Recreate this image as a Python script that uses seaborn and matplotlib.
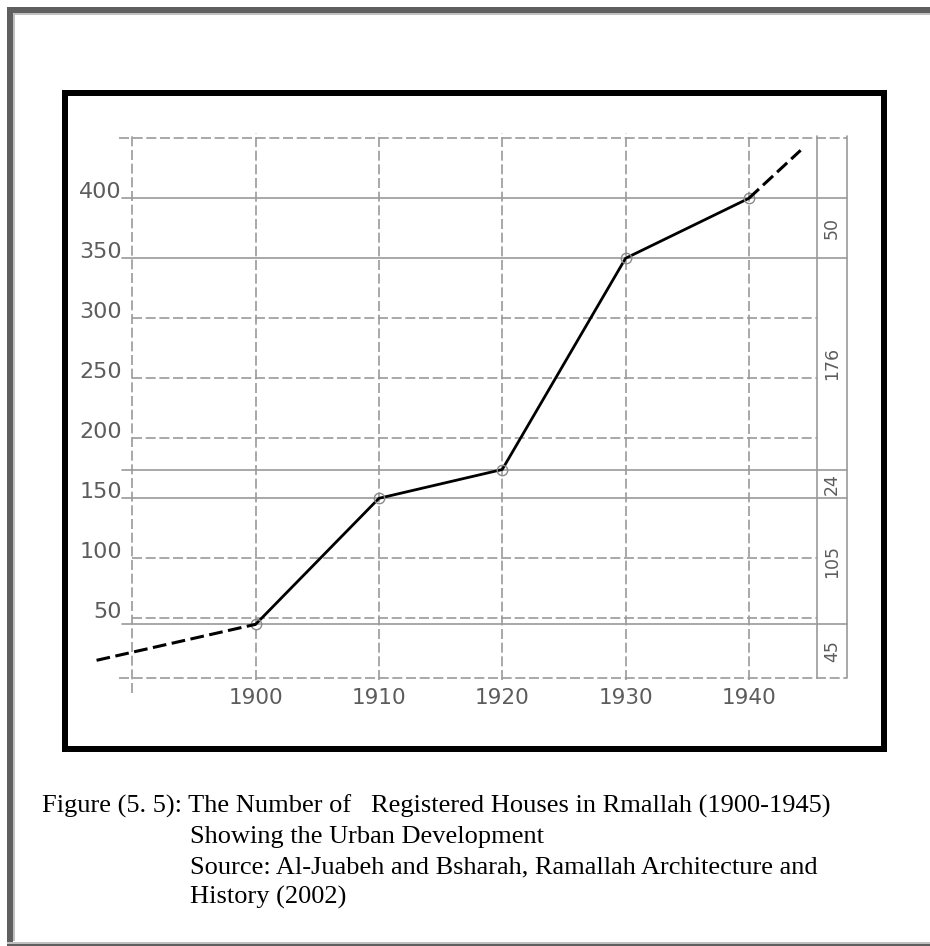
import numpy as np
import matplotlib as mpl
mpl.use('Agg')
import matplotlib.pyplot as plt
from matplotlib.patches import Rectangle
import seaborn as sns

# data
years = [1900, 1910, 1920, 1930, 1940]
houses = [45, 150, 174, 350, 400]
lead_in_years = [1887.1, 1900]
lead_in_houses = [15, 45]
lead_out_years = [1940, 1944.2]
lead_out_houses = [400, 440]
increments = [45, 105, 24, 176, 50]
y_ticks = [400, 350, 300, 250, 200, 150, 100, 50]
x_ticks = [1900, 1910, 1920, 1930, 1940]
caption = [
    "Figure (5. 5): The Number of   Registered Houses in Rmallah (1900-1945)",
    "Showing the Urban Development",
    "Source: Al-Juabeh and Bsharah, Ramallah Architecture and",
    "History (2002)",
]

sns.set_theme(style="white")
plt.rcParams['font.family'] = ['DejaVu Sans']

W, H = 930, 946
fig = plt.figure(figsize=(W / 100, H / 100), dpi=100)
fig.patch.set_facecolor('white')

def fx(px):
    return px / W

def fy(py):
    return 1 - py / H

# outer page frame (right edge is cropped off in the original)
for x0, y0, x1, y1, c in [(7, 7, 13, 946, '#5f5f5f'), (7, 7, 930, 13, '#5f5f5f'),
                          (13, 13, 15, 941, '#c0c0c0'), (13, 13, 930, 15, '#c0c0c0'),
                          (7, 941.5, 930, 944, '#c0c0c0'), (7, 944, 930, 946, '#5f5f5f')]:
    fig.add_artist(Rectangle((fx(x0), fy(y1)), fx(x1) - fx(x0), fy(y0) - fy(y1),
                             transform=fig.transFigure, color=c, lw=0))

# plot area inside black box (box centre line 65..884 x 93..749 px)
ax = fig.add_axes([fx(65), fy(749), fx(884) - fx(65), fy(93) - fy(749)])
ax.set_xlim(1884.54, 1950.96)
ax.set_ylim(-58.9, 487.75)
for s in ax.spines.values():
    s.set_visible(False)
ax.set_xticks([])
ax.set_yticks([])
fig.add_artist(Rectangle((fx(65), fy(749)), fx(884) - fx(65), fy(93) - fy(749),
                         transform=fig.transFigure, fill=False, ec='black',
                         lw=4.32, joinstyle='miter', zorder=10))

grid_c = '#9a9a9a'
dash = (0, (6, 2.2))
col_a, col_b = 1945.5, 1947.94  # right hand columns

# solid horizontals at the data levels
for v in houses:
    ax.plot([1889.16, col_b], [v, v], color=grid_c, lw=1.2, zorder=1)
# dashed horizontals
for v in [300, 250, 200, 100, 50]:
    ax.plot([1890, col_a], [v, v], color=grid_c, lw=1.2, ls=dash, zorder=1)
for v in [450, 0]:
    ax.plot([1888.95, col_b], [v, v], color=grid_c, lw=1.2, ls=dash, zorder=1)
# verticals
ax.plot([1890, 1890], [-12, 454.4], color=grid_c, lw=1.2, ls=dash, zorder=1)
for yr in x_ticks:
    ax.plot([yr, yr], [-1.5, 454.4], color=grid_c, lw=1.2, ls=dash, zorder=1)
for xc in [col_a, col_b]:
    ax.plot([xc, xc], [0, 452], color=grid_c, lw=1.2, zorder=1)

# data line
sns.lineplot(x=years, y=houses, ax=ax, color='black', lw=2.0, marker='o',
             markersize=7.5, markerfacecolor='none', markeredgecolor='#8a8a8a',
             markeredgewidth=1.0, zorder=5)
sns.lineplot(x=lead_in_years, y=lead_in_houses, ax=ax, color='black', lw=2.2,
             linestyle=(0, (4.5, 1.8)), zorder=5)
sns.lineplot(x=lead_out_years, y=lead_out_houses, ax=ax, color='black', lw=2.2,
             linestyle=(0, (4.5, 1.8)), zorder=5)

txt_c = '#5c5c5c'
for v in y_ticks:
    ax.text(1889.14, v + 0.5, str(v), ha='right', va='baseline', fontsize=16,
            color=txt_c)
for yr in x_ticks:
    ax.text(yr, -16.4, str(yr), ha='center', va='center', fontsize=15.5,
            color=txt_c)

# increments between successive levels, in the right hand column
bounds = [0] + houses
for i, inc in enumerate(increments):
    mid = (bounds[i] + bounds[i + 1]) / 2
    ax.text((col_a + col_b) / 2, mid, str(inc), ha='center', va='center',
            rotation=90, fontsize=12.5, color=txt_c)

# caption
cap_x = [42, 190, 190, 190]
cap_y = [813, 843.3, 873.3, 903.3]
for t, x, y in zip(caption, cap_x, cap_y):
    fig.text(fx(x), fy(y), t, ha='left', va='baseline', fontsize=19,
             family='Liberation Serif', color='black')

fig.savefig('out.png', dpi=100)
